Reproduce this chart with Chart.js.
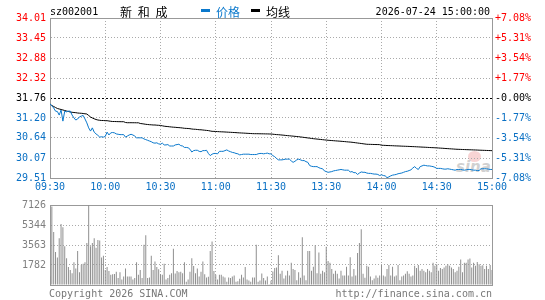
<!DOCTYPE html>
<html lang="zh-CN">
<head>
  <meta charset="UTF-8" />
  <title>新和成 分时走势</title>
  <style>
    body {
      margin: 0;
      background: #fff;
    }
    #wrap {
      position: relative;
      width: 545px;
      height: 300px;
      overflow: hidden;
      font-family: "DejaVu Sans Mono", monospace;
      font-size: 10px;
    }
    #wrap canvas {
      position: absolute;
      left: 0;
      z-index: 1;
    }
    .txt {
      position: absolute;
      white-space: nowrap;
      line-height: 12px;
      z-index: 2;
    }
    .cn {
      font-family: "Noto Sans CJK SC", sans-serif;
      font-size: 12px;
      line-height: 14px;
    }
    .dash {
      position: absolute;
      top: 9px;
      width: 9px;
      height: 3px;
    }
    .foot {
      color: #777;
    }
    #logo {
      position: absolute;
      left: 456px;
      top: 158px;
      font-family: "DejaVu Sans", sans-serif;
      font-size: 15px;
      font-weight: bold;
      font-style: italic;
      color: rgba(170, 170, 170, 0.55);
      z-index: 0;
    }
    #eye {
      position: absolute;
      left: 468px;
      top: 151px;
      width: 13px;
      height: 11px;
      border-radius: 50%;
      background: rgba(240, 160, 160, 0.45);
      z-index: 0;
    }
  </style>
  <script src="https://cdn.jsdelivr.net/npm/chart.js"></script>
</head>
<body>
  <div id="wrap">
    <div id="eye"></div>
    <div id="logo">sina</div>
    <canvas id="priceChart" width="545" height="195" style="top:0"></canvas>
    <canvas id="volChart" width="545" height="105" style="top:195px"></canvas>

    <span class="txt" style="left:50px; top:6px;">sz002001</span>
    <span class="txt cn" style="left:120px; top:5px; word-spacing:3px;">新 和 成</span>
    <span class="dash" style="left:201px; background:#0a78cc;"></span>
    <span class="txt cn" style="left:216px; top:5px; color:#0a78cc;">价格</span>
    <span class="dash" style="left:251px; background:#000;"></span>
    <span class="txt cn" style="left:266px; top:5px;">均线</span>
    <span class="txt" style="right:55px; top:6px;">2026-07-24 15:00:00</span>

    <span class="txt foot" style="left:49px; top:288px;">Copyright 2026 SINA.COM</span>
    <span class="txt foot" style="right:53px; top:288px;">http://finance.sina.com.cn</span>
  </div>

  <script>
    // 昨收
    const preClose = 31.76;

    // 时间刻度
    const timeTicks = ['09:30', '10:00', '10:30', '11:00', '11:30', '13:30', '14:00', '14:30', '15:00'];

    // 价格轴刻度 (从下到上)
    const priceTicks = [29.51, 30.07, 30.64, 31.20, 31.76, 32.32, 32.88, 33.45, 34.01];
    const priceTickLabels = ['29.51', '30.07', '30.64', '31.20', '31.76', '32.32', '32.88', '33.45', '34.01'];
    const pctTicks = [-7.08, -5.31, -3.54, -1.77, 0, 1.77, 3.54, 5.31, 7.08];
    const pctTickLabels = ['-7.08%', '-5.31%', '-3.54%', '-1.77%', '-0.00%', '+1.77%', '+3.54%', '+5.31%', '+7.08%'];

    // 成交量轴刻度
    const volTicks = [0, 1782, 3563, 5344, 7126];
    const volTickLabels = ['', '1782', '3563', '5344', '7126'];

    // 每分钟价格
    const prices = [
      31.59, 31.54, 31.48, 31.39, 31.38, 31.28, 31.42, 31.11, 31.39, 31.37,
      31.39, 31.39, 31.28, 31.20, 31.14, 31.17, 31.23, 31.25, 31.27, 31.17,
      31.06, 30.92, 30.83, 30.92, 30.80, 30.75, 30.71, 30.66, 30.67, 30.66,
      30.68, 30.80, 30.72, 30.78, 30.79, 30.78, 30.75, 30.74, 30.73, 30.73,
      30.73, 30.66, 30.69, 30.72, 30.74, 30.72, 30.69, 30.64, 30.64, 30.64,
      30.64, 30.61, 30.59, 30.57, 30.55, 30.53, 30.50, 30.49, 30.50, 30.47,
      30.46, 30.49, 30.44, 30.44, 30.45, 30.41, 30.41, 30.41, 30.44, 30.45,
      30.46, 30.42, 30.41, 30.37, 30.37, 30.36, 30.32, 30.24, 30.28, 30.29,
      30.29, 30.26, 30.25, 30.28, 30.28, 30.29, 30.20, 30.14, 30.18, 30.20,
      30.20, 30.19, 30.26, 30.26, 30.26, 30.28, 30.30, 30.27, 30.25, 30.23,
      30.22, 30.20, 30.19, 30.16, 30.17, 30.18, 30.18, 30.18, 30.18, 30.17,
      30.17, 30.17, 30.17, 30.19, 30.20, 30.20, 30.19, 30.20, 30.21, 30.19,
      30.19, 30.14, 30.11, 30.06, 30.02, 30.02, 30.02, 30.03, 30.04, 30.04,
      30.04, 29.99, 29.95, 29.98, 30.02, 30.04, 30.02, 30.00, 30.00, 29.97,
      29.95, 29.86, 29.84, 29.83, 29.83, 29.83, 29.80, 29.78, 29.77, 29.71,
      29.69, 29.67, 29.68, 29.69, 29.71, 29.72, 29.73, 29.74, 29.75, 29.74,
      29.73, 29.73, 29.73, 29.68, 29.69, 29.66, 29.66, 29.61, 29.65, 29.68,
      29.67, 29.67, 29.65, 29.64, 29.64, 29.63, 29.62, 29.62, 29.61, 29.58,
      29.60, 29.58, 29.57, 29.52, 29.54, 29.57, 29.59, 29.60, 29.61, 29.63,
      29.64, 29.65, 29.67, 29.69, 29.70, 29.72, 29.74, 29.79, 29.83, 29.78,
      29.75, 29.83, 29.85, 29.87, 29.86, 29.85, 29.85, 29.84, 29.83, 29.81,
      29.78, 29.78, 29.78, 29.77, 29.76, 29.76, 29.77, 29.76, 29.75, 29.74,
      29.73, 29.75, 29.75, 29.75, 29.74, 29.73, 29.74, 29.75, 29.75, 29.74,
      29.73, 29.73, 29.72, 29.72, 29.77, 29.77, 29.77, 29.77, 29.76, 29.75, 29.75
    ];

    // 均价
    const avgPrices = [
      31.591, 31.549, 31.521, 31.493, 31.465, 31.451, 31.437, 31.423, 31.408, 31.394,
      31.380, 31.366, 31.358, 31.352, 31.347, 31.338, 31.333, 31.330, 31.324, 31.316,
      31.310, 31.268, 31.226, 31.198, 31.175, 31.155, 31.141, 31.133, 31.127, 31.127,
      31.122, 31.122, 31.113, 31.105, 31.099, 31.099, 31.097, 31.095, 31.094, 31.093,
      31.093, 31.071, 31.065, 31.065, 31.065, 31.064, 31.064, 31.063, 31.063, 31.043,
      31.037, 31.029, 31.020, 31.015, 31.009, 31.006, 31.001, 31.001, 30.995, 30.992,
      30.987, 30.978, 30.967, 30.961, 30.956, 30.950, 30.944, 30.939, 30.936, 30.930,
      30.927, 30.922, 30.916, 30.908, 30.905, 30.902, 30.897, 30.888, 30.882, 30.880,
      30.874, 30.868, 30.866, 30.860, 30.854, 30.849, 30.843, 30.832, 30.823, 30.821,
      30.818, 30.815, 30.812, 30.809, 30.807, 30.804, 30.801, 30.798, 30.795, 30.792,
      30.789, 30.786, 30.782, 30.779, 30.776, 30.773, 30.770, 30.767, 30.764, 30.761,
      30.758, 30.756, 30.756, 30.755, 30.754, 30.753, 30.752, 30.751, 30.750, 30.748,
      30.747, 30.742, 30.736, 30.731, 30.728, 30.723, 30.718, 30.713, 30.707, 30.702,
      30.697, 30.692, 30.687, 30.682, 30.677, 30.672, 30.665, 30.658, 30.651, 30.644,
      30.637, 30.630, 30.623, 30.616, 30.610, 30.605, 30.599, 30.594, 30.588, 30.582,
      30.577, 30.571, 30.567, 30.563, 30.559, 30.555, 30.551, 30.547, 30.543, 30.538,
      30.534, 30.529, 30.524, 30.520, 30.515, 30.508, 30.501, 30.494, 30.487, 30.480,
      30.473, 30.466, 30.459, 30.457, 30.456, 30.454, 30.452, 30.451, 30.450, 30.448,
      30.431, 30.429, 30.427, 30.424, 30.422, 30.420, 30.418, 30.415, 30.413, 30.411,
      30.409, 30.406, 30.404, 30.402, 30.400, 30.398, 30.395, 30.393, 30.391, 30.388,
      30.385, 30.382, 30.379, 30.377, 30.374, 30.371, 30.368, 30.365, 30.363, 30.360,
      30.357, 30.354, 30.350, 30.347, 30.343, 30.339, 30.336, 30.332, 30.329, 30.325,
      30.321, 30.318, 30.316, 30.314, 30.312, 30.310, 30.308, 30.306, 30.304, 30.302,
      30.300, 30.298, 30.296, 30.293, 30.291, 30.289, 30.287, 30.285, 30.283, 30.281, 30.279
    ];

    // 每分钟成交量 (手)
    const volumes = [
      763, 6983, 4721, 2940, 2459, 4156, 5428, 5145, 3449, 2375,
      1611, 1329, 1046, 2035, 1470, 3025, 1131, 1809, 1894, 2035,
      3732, 7126, 3449, 3732, 4156, 3308, 4014, 3958, 2459, 2601,
      1329, 1611, 1244, 905, 961, 989, 1187, 622, 1131, 481,
      763, 1470, 763, 763, 763, 481, 622, 2035, 905, 1329,
      622, 3590, 4438, 622, 678, 2601, 1329, 2092, 1611, 1414,
      961, 905, 1894, 481, 622, 905, 1046, 3223, 1018, 1244,
      1131, 1187, 1046, 2035, 283, 481, 1187, 2375, 1696, 1046,
      1470, 763, 1187, 2092, 961, 678, 735, 3025, 3873, 1244,
      905, 481, 905, 905, 763, 678, 283, 678, 622, 763,
      848, 283, 339, 565, 905, 678, 1611, 481, 396, 283,
      678, 678, 3590, 283, 396, 1018, 622, 396, 763, 57,
      369, 1193, 1505, 1562, 2641, 994, 1278, 568, 852, 1278,
      852, 1988, 1420, 1335, 426, 1136, 653, 4260, 852, 426,
      3039, 3039, 1278, 1619, 3550, 1051, 2897, 994, 1278, 1136,
      3408, 2130, 1988, 1420, 994, 1278, 994, 568, 1278, 852,
      852, 1619, 852, 2471, 767, 1420, 852, 2840, 3749, 4970,
      994, 653, 1704, 1619, 767, 426, 568, 852, 653, 852,
      1789, 852, 767, 1420, 1789, 852, 1619, 767, 852, 1789,
      426, 767, 852, 994, 1221, 994, 767, 852, 1704, 1505,
      1789, 1278, 1420, 1278, 1136, 1420, 1278, 1136, 1988, 1704,
      1846, 1278, 1505, 1420, 1562, 1704, 1846, 1704, 1562, 1420,
      1136, 1278, 1619, 2272, 1136, 1988, 1988, 2272, 2357, 1562,
      1988, 1704, 2045, 1846, 1704, 1761, 1420, 1704, 1420, 1789, 1335
    ];

    // 分钟标签: 09:30-11:30, 13:01-15:00
    const minutes = [];
    function pushRange(h0, m0, h1, m1) {
      for (let t = h0 * 60 + m0; t <= h1 * 60 + m1; t++) {
        const h = Math.floor(t / 60), m = t % 60;
        minutes.push(String(h).padStart(2, '0') + ':' + String(m).padStart(2, '0'));
      }
    }
    pushRange(9, 30, 11, 30);
    pushRange(13, 1, 15, 0);

    const red = '#ff0000';
    const blueText = '#0a70c4';
    const blueLine = '#0a78cc';
    const frameGray = '#999999';
    const gridGray = '#aaaaaa';
    const labelGray = '#808080';
    const mono = { family: 'DejaVu Sans Mono', size: 10 };

    const isPre = v => Math.abs(v - preClose) < 0.001;
    const every30 = axis => { axis.ticks = axis.ticks.filter(t => t.value % 30 === 0); };
    const innerGrid = c => (c.index > 0 && c.index < 8) ? gridGray : 'transparent';

    // 顶部边框
    const topFrame = {
      type: 'category',
      position: 'top',
      offset: false,
      ticks: { display: false },
      grid: { display: false, drawTicks: false },
      border: { color: frameGray },
      afterFit: a => { a.height = 0; }
    };

    new Chart(document.getElementById('priceChart'), {
      type: 'line',
      data: {
        labels: minutes,
        datasets: [
          { label: '价格', data: prices, borderColor: blueLine, borderWidth: 1, pointRadius: 0, tension: 0, yAxisID: 'y' },
          { label: '均线', data: avgPrices, borderColor: '#000', borderWidth: 1, pointRadius: 0, tension: 0, yAxisID: 'y' }
        ]
      },
      options: {
        responsive: false,
        animation: false,
        devicePixelRatio: 1,
        layout: { padding: { top: 18, left: 0, right: 0, bottom: 0 } },
        plugins: { legend: { display: false }, tooltip: { enabled: false } },
        scales: {
          x: {
            type: 'category',
            offset: false,
            afterBuildTicks: every30,
            afterFit: a => { a.height = 17; },
            ticks: { autoSkip: false, maxRotation: 0, color: blueText, font: mono, padding: 3, callback: (v, i) => timeTicks[i] },
            grid: { drawTicks: false, color: innerGrid },
            border: { color: frameGray, dash: [1, 2] }
          },
          xTop: topFrame,
          y: {
            position: 'left',
            min: 29.51,
            max: 34.01,
            afterBuildTicks: a => { a.ticks = priceTicks.map(v => ({ value: v })); },
            afterFit: a => { a.width = 50; },
            ticks: {
              font: mono,
              padding: 4,
              color: c => isPre(c.tick.value) ? '#000' : (c.tick.value > preClose ? red : blueText),
              callback: (v, i) => priceTickLabels[i]
            },
            grid: { drawTicks: false, color: c => (c.tick && !isPre(c.tick.value)) ? innerGrid(c) : 'transparent' },
            border: { color: frameGray, dash: [1, 2] }
          },
          y1: {
            position: 'right',
            min: -7.08,
            max: 7.08,
            afterBuildTicks: a => { a.ticks = pctTicks.map(v => ({ value: v })); },
            afterFit: a => { a.width = 53; },
            ticks: {
              font: mono,
              padding: 3,
              color: c => c.tick.value > 0 ? red : (c.tick.value < 0 ? blueText : '#000'),
              callback: (v, i) => pctTickLabels[i]
            },
            grid: { drawTicks: false, color: c => (c.tick && c.tick.value === 0) ? '#000' : 'transparent' },
            border: { color: frameGray, dash: [2, 2] }
          }
        }
      }
    });

    new Chart(document.getElementById('volChart'), {
      type: 'bar',
      data: {
        labels: minutes,
        datasets: [
          { label: '成交量', data: volumes, backgroundColor: '#8f8f8f', borderWidth: 0, barThickness: 1, inflateAmount: 0 }
        ]
      },
      options: {
        responsive: false,
        animation: false,
        devicePixelRatio: 1,
        layout: { padding: { top: 6, left: 0, right: 0, bottom: 0 } },
        plugins: { legend: { display: false }, tooltip: { enabled: false } },
        scales: {
          x: {
            type: 'category',
            offset: false,
            afterBuildTicks: every30,
            afterFit: a => { a.height = 15; },
            ticks: { display: false },
            grid: { offset: false, drawTicks: false, color: innerGrid },
            border: { color: frameGray, dash: [1, 2] }
          },
          xTop: topFrame,
          y: {
            position: 'left',
            min: 0,
            max: 7126,
            afterBuildTicks: a => { a.ticks = volTicks.map(v => ({ value: v })); },
            afterFit: a => { a.width = 50; },
            ticks: { font: mono, padding: 4, color: labelGray, callback: (v, i) => volTickLabels[i] },
            grid: { drawTicks: false, color: c => (c.index > 0 && c.index < 4) ? gridGray : 'transparent' },
            border: { color: frameGray, dash: [1, 2] }
          },
          y1: {
            position: 'right',
            min: 0,
            max: 7126,
            afterFit: a => { a.width = 53; },
            ticks: { display: false },
            grid: { display: false, drawTicks: false },
            border: { color: frameGray }
          }
        }
      }
    });
  </script>
</body>
</html>
